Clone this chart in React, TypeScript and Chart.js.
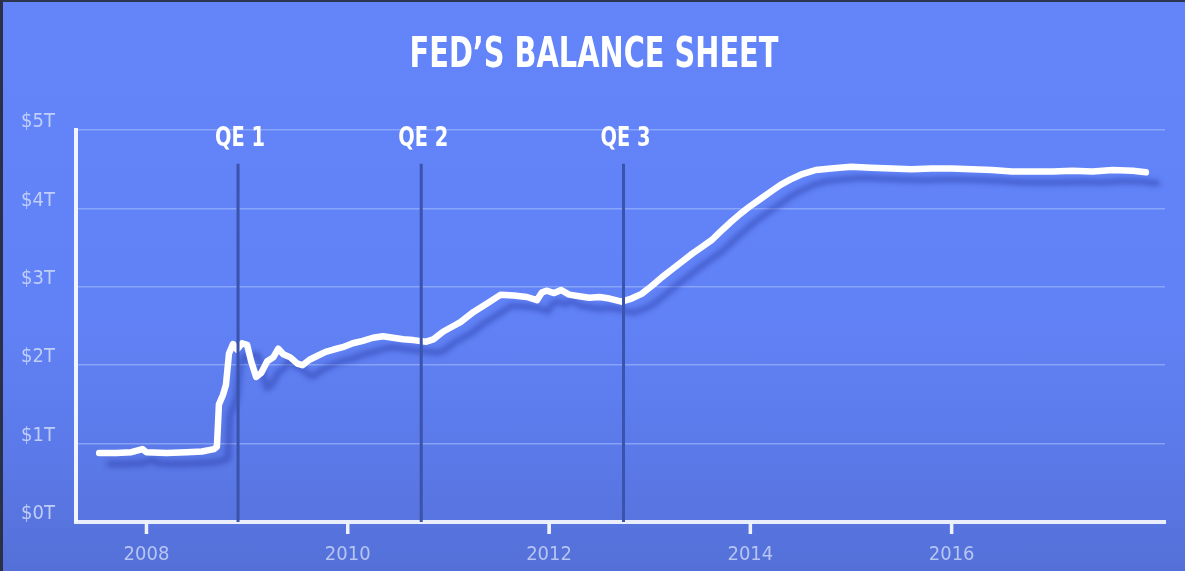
import React, { useEffect, useRef } from "react";
import { Chart, registerables } from "chart.js";

Chart.register(...registerables);

const titleText = "FED\u2019S BALANCE SHEET";

const dates: number[] = [
  2007.53, 2007.7, 2007.85, 2007.96, 2008.0, 2008.2, 2008.4, 2008.55, 2008.67, 2008.7,
  2008.72, 2008.76, 2008.79, 2008.82, 2008.86, 2008.9, 2008.95, 2009.0, 2009.04, 2009.09,
  2009.14, 2009.2, 2009.26, 2009.31, 2009.36, 2009.43, 2009.5, 2009.55, 2009.62, 2009.7,
  2009.78, 2009.86, 2009.95, 2010.05, 2010.15, 2010.25, 2010.35, 2010.45, 2010.55, 2010.65,
  2010.78, 2010.85, 2010.95, 2011.05, 2011.12, 2011.25, 2011.4, 2011.52, 2011.65, 2011.78,
  2011.88, 2011.93, 2011.98, 2012.05, 2012.12, 2012.2, 2012.3, 2012.4, 2012.5, 2012.6,
  2012.72, 2012.82, 2012.92, 2013.02, 2013.12, 2013.22, 2013.32, 2013.42, 2013.52, 2013.62,
  2013.7, 2013.8, 2013.9, 2014.0, 2014.1, 2014.2, 2014.3, 2014.4, 2014.5, 2014.65,
  2014.8, 2015.0, 2015.2, 2015.4, 2015.6, 2015.8, 2016.0, 2016.2, 2016.4, 2016.6,
  2016.8, 2017.0, 2017.2, 2017.4, 2017.6, 2017.8, 2017.93,
];

const balanceT: number[] = [
  0.88, 0.88, 0.89, 0.93, 0.89, 0.88, 0.89, 0.9, 0.93, 0.96,
  1.5, 1.62, 1.75, 2.15, 2.27, 2.2, 2.28, 2.26, 2.05, 1.85,
  1.9, 2.05, 2.1, 2.21, 2.14, 2.1, 2.02, 2.0, 2.07, 2.12,
  2.17, 2.2, 2.23, 2.28, 2.31, 2.35, 2.37, 2.35, 2.33, 2.32,
  2.3, 2.33, 2.43, 2.5, 2.55, 2.68, 2.8, 2.9, 2.89, 2.87,
  2.83, 2.93, 2.95, 2.92, 2.96, 2.9, 2.88, 2.86, 2.87, 2.85,
  2.81, 2.85, 2.91, 3.01, 3.12, 3.22, 3.32, 3.42, 3.51, 3.6,
  3.7, 3.82, 3.93, 4.03, 4.12, 4.21, 4.3, 4.37, 4.43, 4.49,
  4.51, 4.53, 4.52, 4.51, 4.5, 4.51, 4.51, 4.5, 4.49, 4.47,
  4.47, 4.47, 4.48, 4.47, 4.49, 4.48, 4.46,
];

const qeLabels: string[] = ["QE 1", "QE 2", "QE 3"];
const qeDates: number[] = [2008.91, 2010.73, 2012.74];
const qeTop: number[] = [4.57, 4.57, 4.57];

const xTicks: number[] = [2008, 2010, 2012, 2014, 2016];
const yTicks: number[] = [0, 1, 2, 3, 4, 5];
const yTickLabels: string[] = ["$0T", "$1T", "$2T", "$3T", "$4T", "$5T"];

const FONT = "'DejaVu Sans Condensed', 'DejaVu Sans', sans-serif";

export default function App() {
  const ref = useRef<HTMLCanvasElement | null>(null);

  useEffect(() => {
    if (!ref.current) return;

    const shadowPlugin = {
      id: "lineShadow",
      beforeDatasetDraw(chart: any, args: any) {
        if (args.index !== 0) return;
        const ctx = chart.ctx;
        ctx.save();
        ctx.shadowColor = "rgba(30, 45, 150, 0.38)";
        ctx.shadowBlur = 5;
        ctx.shadowOffsetX = 11;
        ctx.shadowOffsetY = 11;
      },
      afterDatasetDraw(chart: any, args: any) {
        if (args.index !== 0) return;
        chart.ctx.restore();
      },
    };

    const drawCondensed = (ctx: any, text: string, x: number, y: number, font: string, sx: number) => {
      ctx.save();
      ctx.font = font;
      ctx.textAlign = "center";
      ctx.textBaseline = "middle";
      ctx.translate(x, y);
      ctx.scale(sx, 1);
      ctx.fillText(text, 0, 0);
      ctx.restore();
    };

    const textPlugin = {
      id: "textLabels",
      afterDraw(chart: any) {
        const ctx = chart.ctx;
        const xs = chart.scales.x;
        const ys = chart.scales.y;
        ctx.save();
        ctx.fillStyle = "#ffffff";
        drawCondensed(ctx, titleText, chart.width / 2, 54, `bold 43px ${FONT}`, 0.745);
        qeLabels.forEach((t, i) => {
          drawCondensed(ctx, t, xs.getPixelForValue(qeDates[i]) + 2, ys.getPixelForValue(5) + 9, `bold 27px ${FONT}`, 0.8);
        });
        ctx.strokeStyle = "#eef2fc";
        ctx.lineWidth = 3.5;
        const b = chart.chartArea.bottom;
        xTicks.forEach((v) => {
          const px = xs.getPixelForValue(v);
          ctx.beginPath();
          ctx.moveTo(px, b);
          ctx.lineTo(px, b + 12);
          ctx.stroke();
        });
        ctx.restore();
      },
    };

    const qeDatasets = qeDates.map((d, i) => ({
      label: qeLabels[i],
      data: [
        { x: d, y: 0 },
        { x: d, y: qeTop[i] },
      ],
      borderColor: "#3a53ab",
      borderWidth: 3,
      pointRadius: 0,
      order: 0,
    }));

    const chart = new Chart(ref.current, {
      type: "line",
      data: {
        datasets: [
          {
            label: "Fed balance sheet",
            data: dates.map((d, i) => ({ x: d, y: balanceT[i] })),
            borderColor: "#ffffff",
            borderWidth: 6.5,
            pointRadius: 0,
            tension: 0,
            borderCapStyle: "round",
            borderJoinStyle: "round",
            order: 1,
          },
          ...qeDatasets,
        ] as any,
      },
      plugins: [shadowPlugin, textPlugin],
      options: {
        animation: false,
        responsive: true,
        maintainAspectRatio: false,
        layout: { padding: { left: 0, right: 20, top: 128, bottom: 0 } },
        plugins: {
          legend: { display: false },
          tooltip: { enabled: false },
          title: { display: false },
        },
        scales: {
          x: {
            type: "linear",
            min: 2007.3,
            max: 2018.12,
            afterBuildTicks: (s: any) => {
              s.ticks = xTicks.map((v) => ({ value: v }));
            },
            afterFit: (s: any) => {
              s.height = 49;
            },
            ticks: {
              color: "rgba(200, 212, 248, 0.85)",
              font: { family: FONT, size: 20 },
              padding: 10,
              maxRotation: 0,
              callback: (v: any) => String(v),
            },
            grid: {
              drawOnChartArea: false,
              drawTicks: true,
              tickLength: 11,
              tickWidth: 3,
              tickColor: "rgba(235, 240, 252, 0.95)",
            },
            border: { display: true, color: "rgba(238, 242, 252, 0.97)", width: 4 },
          },
          y: {
            type: "linear",
            min: 0,
            max: 5,
            afterBuildTicks: (s: any) => {
              s.ticks = yTicks.map((v) => ({ value: v }));
            },
            afterFit: (s: any) => {
              s.width = 73;
            },
            ticks: {
              color: "rgba(205, 218, 250, 0.88)",
              font: { family: FONT, size: 20 },
              padding: 21,
              labelOffset: -8,
              callback: (v: any) => {
                const i = yTicks.indexOf(Number(v));
                return i >= 0 ? yTickLabels[i] : "";
              },
            },
            grid: {
              drawTicks: false,
              color: (c: any) => (c.tick && c.tick.value === 0 ? "rgba(0,0,0,0)" : "rgba(170, 195, 255, 0.55)"),
              lineWidth: 1.5,
            },
            border: { display: true, color: "rgba(245, 248, 255, 0.97)", width: 4 },
          },
        },
      } as any,
    });

    return () => chart.destroy();
  }, []);

  return (
    <div
      style={{
        position: "fixed",
        left: 0,
        top: 0,
        width: 1185,
        height: 571,
        boxSizing: "border-box",
        borderTop: "2px solid #2e3550",
        borderLeft: "3px solid #2a3048",
        background: "linear-gradient(to bottom, #6385f9 0%, #6182f6 55%, #5b79e8 80%, #5470d8 100%)",
      }}
    >
      <canvas ref={ref} />
    </div>
  );
}
